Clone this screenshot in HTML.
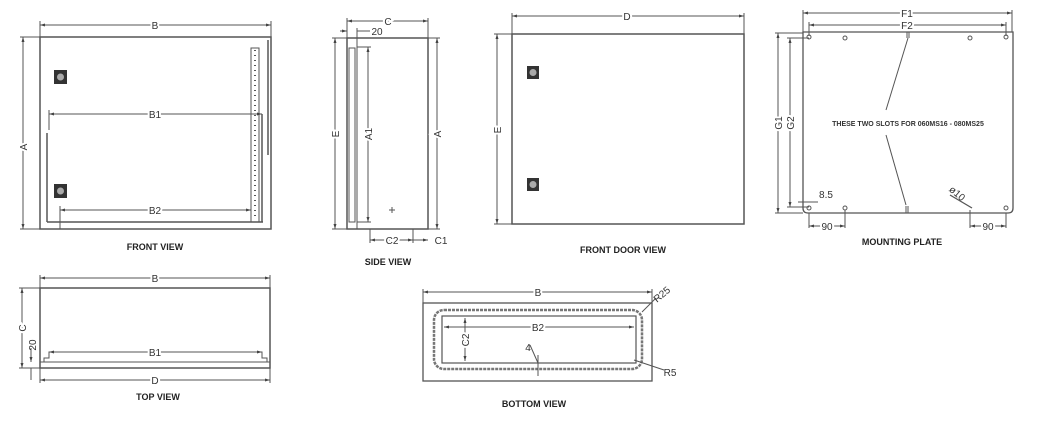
<!DOCTYPE html>
<html><head><meta charset="utf-8"><style>
html,body{margin:0;padding:0;background:#fff;width:1042px;height:421px;overflow:hidden}
svg text{font-family:"Liberation Sans",sans-serif;fill:#333}
.l{font-weight:bold;font-size:9px;fill:#222}
</style></head><body>
<svg width="1042" height="421" viewBox="0 0 1042 421" xmlns="http://www.w3.org/2000/svg">
<defs>
<marker id="a" viewBox="0 0 10 10" refX="10" refY="5" markerWidth="5" markerHeight="5" orient="auto-start-reverse"><path d="M0,2 L10,5 L0,8z" fill="#444"/></marker>
</defs>
<g stroke="#555" stroke-width="1" fill="none">
<!-- FRONT VIEW -->
<rect x="40" y="37" width="231" height="192" stroke-width="1.5"/>
<line x1="40" y1="25" x2="271" y2="25" marker-start="url(#a)" marker-end="url(#a)"/>
<line x1="40" y1="21" x2="40" y2="37"/><line x1="271" y1="21" x2="271" y2="37"/>
<line x1="23" y1="37" x2="23" y2="229" marker-start="url(#a)" marker-end="url(#a)"/>
<line x1="20" y1="37" x2="40" y2="37"/><line x1="20" y1="229" x2="40" y2="229"/>
<line x1="47" y1="133" x2="47" y2="222" stroke-width="1.5"/>
<line x1="47" y1="222" x2="263" y2="222" stroke-width="1.5"/>
<rect x="251" y="48" width="8" height="174"/>
<line x1="255" y1="50" x2="255" y2="220" stroke-dasharray="1,4" stroke-width="2"/>
<line x1="262" y1="114" x2="262" y2="222" stroke-width="1.5"/>
<line x1="268" y1="40" x2="268" y2="155" stroke-width="1.5"/>
<line x1="49" y1="114" x2="262" y2="114" marker-start="url(#a)" marker-end="url(#a)"/>
<line x1="49" y1="110" x2="49" y2="130"/>
<line x1="60" y1="210" x2="251" y2="210" marker-start="url(#a)" marker-end="url(#a)"/>
<line x1="60" y1="206" x2="60" y2="229"/>
<!-- SIDE VIEW -->
<rect x="347" y="38" width="81" height="191" stroke-width="1.5"/>
<rect x="349" y="48" width="6" height="174"/>
<line x1="357" y1="38" x2="357" y2="229"/>
<line x1="347" y1="21" x2="428" y2="21" marker-start="url(#a)" marker-end="url(#a)"/>
<line x1="347" y1="18" x2="347" y2="38"/><line x1="428" y1="18" x2="428" y2="38"/>
<line x1="340" y1="31" x2="347" y2="31" marker-end="url(#a)"/><line x1="357" y1="31" x2="370" y2="31"/>
<line x1="357" y1="28" x2="357" y2="38"/>
<line x1="335" y1="38" x2="335" y2="229" marker-start="url(#a)" marker-end="url(#a)"/>
<line x1="332" y1="38" x2="347" y2="38"/><line x1="332" y1="229" x2="347" y2="229"/>
<line x1="368" y1="47" x2="368" y2="222" marker-start="url(#a)" marker-end="url(#a)"/>
<line x1="357" y1="47" x2="371" y2="47"/><line x1="357" y1="222" x2="371" y2="222"/>
<line x1="437" y1="38" x2="437" y2="229" marker-start="url(#a)" marker-end="url(#a)"/>
<line x1="428" y1="38" x2="440" y2="38"/><line x1="428" y1="229" x2="440" y2="229"/>
<line x1="370" y1="229" x2="370" y2="243"/><line x1="413" y1="229" x2="413" y2="243"/>
<line x1="370" y1="240" x2="413" y2="240" marker-start="url(#a)" marker-end="url(#a)"/>
<line x1="413" y1="240" x2="428" y2="240" marker-end="url(#a)"/>
<line x1="389" y1="210" x2="395" y2="210"/><line x1="392" y1="207" x2="392" y2="213"/>
<!-- FRONT DOOR VIEW -->
<rect x="512" y="34" width="232" height="190" stroke-width="1.5"/>
<line x1="512" y1="16" x2="744" y2="16" marker-start="url(#a)" marker-end="url(#a)"/>
<line x1="512" y1="13" x2="512" y2="34"/><line x1="744" y1="13" x2="744" y2="34"/>
<line x1="497" y1="34" x2="497" y2="224" marker-start="url(#a)" marker-end="url(#a)"/>
<line x1="494" y1="34" x2="512" y2="34"/><line x1="494" y1="224" x2="512" y2="224"/>
<!-- MOUNTING PLATE -->
<path d="M803,32 H1013 V208 Q1013,213 1008,213 H808 Q803,213 803,208 Z" stroke-width="1.3"/>
<line x1="803" y1="13" x2="1012" y2="13" marker-start="url(#a)" marker-end="url(#a)"/>
<line x1="803" y1="10" x2="803" y2="32"/><line x1="1012" y1="10" x2="1012" y2="32"/>
<line x1="809" y1="25" x2="1006" y2="25" marker-start="url(#a)" marker-end="url(#a)"/>
<line x1="809" y1="22" x2="809" y2="36"/><line x1="1006" y1="22" x2="1006" y2="36"/>
<line x1="778" y1="33" x2="778" y2="213" marker-start="url(#a)" marker-end="url(#a)"/>
<line x1="775" y1="33" x2="803" y2="33"/><line x1="775" y1="213" x2="803" y2="213"/>
<line x1="790" y1="38" x2="790" y2="207" marker-start="url(#a)" marker-end="url(#a)"/>
<line x1="787" y1="38" x2="809" y2="38"/><line x1="787" y1="207" x2="809" y2="207"/>
<circle cx="845" cy="38" r="2"/><circle cx="970" cy="38" r="2"/><circle cx="845" cy="208" r="2"/>
<circle cx="809" cy="37" r="2"/><circle cx="1006" cy="37" r="2"/><circle cx="809" cy="208" r="2"/><circle cx="1006" cy="208" r="2"/>
<line x1="907" y1="32" x2="907" y2="38"/><line x1="909" y1="32" x2="909" y2="38"/>
<line x1="906" y1="206" x2="906" y2="213"/><line x1="908" y1="206" x2="908" y2="213"/>
<line x1="908" y1="38" x2="886" y2="110"/><line x1="886" y1="135" x2="906" y2="205"/>
<line x1="950" y1="195" x2="972" y2="208" stroke-width="1.3"/>
<line x1="798" y1="202" x2="818" y2="202"/>
<line x1="809" y1="213" x2="809" y2="228"/><line x1="845" y1="210" x2="845" y2="228"/>
<line x1="809" y1="226" x2="845" y2="226" marker-start="url(#a)" marker-end="url(#a)"/>
<line x1="970" y1="210" x2="970" y2="228"/><line x1="1006" y1="213" x2="1006" y2="228"/>
<line x1="970" y1="226" x2="1006" y2="226" marker-start="url(#a)" marker-end="url(#a)"/>
<!-- TOP VIEW -->
<rect x="40" y="288" width="230" height="80" stroke-width="1.5"/>
<line x1="40" y1="362" x2="270" y2="362"/>
<path d="M44,362 V358 H49 V352 H262 V358 H267 V362"/>
<line x1="40" y1="278" x2="270" y2="278" marker-start="url(#a)" marker-end="url(#a)"/>
<line x1="40" y1="275" x2="40" y2="288"/><line x1="270" y1="275" x2="270" y2="288"/>
<line x1="22" y1="288" x2="22" y2="368" marker-start="url(#a)" marker-end="url(#a)"/>
<line x1="19" y1="288" x2="40" y2="288"/><line x1="19" y1="368" x2="40" y2="368"/>
<line x1="31" y1="348" x2="31" y2="362" marker-end="url(#a)"/><line x1="31" y1="368" x2="31" y2="380"/>
<line x1="49" y1="352" x2="262" y2="352" marker-start="url(#a)" marker-end="url(#a)"/>
<line x1="40" y1="380" x2="270" y2="380" marker-start="url(#a)" marker-end="url(#a)"/>
<line x1="40" y1="368" x2="40" y2="383"/><line x1="270" y1="368" x2="270" y2="383"/>
<!-- BOTTOM VIEW -->
<rect x="423" y="303" width="229" height="78" stroke-width="1.3"/>
<line x1="423" y1="292" x2="652" y2="292" marker-start="url(#a)" marker-end="url(#a)"/>
<line x1="423" y1="289" x2="423" y2="303"/><line x1="652" y1="289" x2="652" y2="303"/>
<rect x="434" y="310" width="208" height="59" rx="10" stroke-width="2.5" stroke="#777" stroke-dasharray="3,1"/>
<rect x="442" y="316" width="194" height="47" stroke-width="1.2"/>
<line x1="444" y1="327" x2="634" y2="327" marker-start="url(#a)" marker-end="url(#a)"/>
<line x1="465" y1="318" x2="465" y2="361" marker-start="url(#a)" marker-end="url(#a)"/>
<line x1="538" y1="355" x2="538" y2="376"/><line x1="530" y1="345" x2="538" y2="363"/>
<line x1="642" y1="312" x2="656" y2="298"/><line x1="634" y1="360" x2="664" y2="370"/>
</g>
<g fill="#333">
<rect x="54" y="70" width="13" height="14"/><rect x="54" y="184" width="13" height="14"/>
<rect x="527" y="66" width="12" height="13"/><rect x="527" y="178" width="12" height="13"/>
</g>
<g fill="#aaa"><circle cx="60.5" cy="77" r="3.5"/><circle cx="60.5" cy="191" r="3.5"/><circle cx="533" cy="72.5" r="3.5"/><circle cx="533" cy="184.5" r="3.5"/></g>
<g font-size="10" text-anchor="middle">
<text x="155" y="29" fill="#333" style="paint-order:stroke" stroke="#fff" stroke-width="4">B</text>
<text x="155" y="118" stroke="#fff" stroke-width="4" style="paint-order:stroke">B1</text>
<text x="155" y="214" stroke="#fff" stroke-width="4" style="paint-order:stroke">B2</text>
<text transform="translate(27,147) rotate(-90)" stroke="#fff" stroke-width="4" style="paint-order:stroke">A</text>
<text x="388" y="25" stroke="#fff" stroke-width="4" style="paint-order:stroke">C</text>
<text x="377" y="35">20</text>
<text transform="translate(339,134) rotate(-90)" stroke="#fff" stroke-width="4" style="paint-order:stroke">E</text>
<text transform="translate(372,134) rotate(-90)" stroke="#fff" stroke-width="4" style="paint-order:stroke">A1</text>
<text transform="translate(441,134) rotate(-90)" stroke="#fff" stroke-width="4" style="paint-order:stroke">A</text>
<text x="392" y="244" stroke="#fff" stroke-width="4" style="paint-order:stroke">C2</text>
<text x="441" y="244">C1</text>
<text x="627" y="20" stroke="#fff" stroke-width="4" style="paint-order:stroke">D</text>
<text transform="translate(501,130) rotate(-90)" stroke="#fff" stroke-width="4" style="paint-order:stroke">E</text>
<text x="907" y="17" stroke="#fff" stroke-width="4" style="paint-order:stroke">F1</text>
<text x="907" y="29" stroke="#fff" stroke-width="4" style="paint-order:stroke">F2</text>
<text transform="translate(782,123) rotate(-90)" stroke="#fff" stroke-width="4" style="paint-order:stroke">G1</text>
<text transform="translate(794,123) rotate(-90)" stroke="#fff" stroke-width="4" style="paint-order:stroke">G2</text>
<text x="826" y="198">8.5</text>
<text transform="translate(955,196) rotate(40)">ø10</text>
<text x="827" y="230" stroke="#fff" stroke-width="4" style="paint-order:stroke">90</text>
<text x="988" y="230" stroke="#fff" stroke-width="4" style="paint-order:stroke">90</text>
<text x="155" y="282" stroke="#fff" stroke-width="4" style="paint-order:stroke">B</text>
<text x="155" y="356" stroke="#fff" stroke-width="4" style="paint-order:stroke">B1</text>
<text x="155" y="384" stroke="#fff" stroke-width="4" style="paint-order:stroke">D</text>
<text transform="translate(26,328) rotate(-90)" stroke="#fff" stroke-width="4" style="paint-order:stroke">C</text>
<text transform="translate(36,345) rotate(-90)">20</text>
<text x="538" y="296" stroke="#fff" stroke-width="4" style="paint-order:stroke">B</text>
<text x="538" y="331" stroke="#fff" stroke-width="4" style="paint-order:stroke">B2</text>
<text transform="translate(469,340) rotate(-90)" stroke="#fff" stroke-width="4" style="paint-order:stroke">C2</text>
<text x="528" y="351">4</text>
<text transform="translate(664,297) rotate(-40)">R25</text>
<text x="670" y="376">R5</text>
</g>
<text x="908" y="126" text-anchor="middle" font-size="7" font-weight="bold" fill="#222">THESE TWO SLOTS FOR 060MS16 - 080MS25</text>
<g class="l" text-anchor="middle">
<text x="155" y="250" class="l">FRONT VIEW</text>
<text x="388" y="265" class="l">SIDE VIEW</text>
<text x="623" y="253" class="l">FRONT DOOR VIEW</text>
<text x="902" y="245" class="l">MOUNTING PLATE</text>
<text x="158" y="400" class="l">TOP VIEW</text>
<text x="534" y="407" class="l">BOTTOM VIEW</text>
</g>
</svg>
</body></html>
